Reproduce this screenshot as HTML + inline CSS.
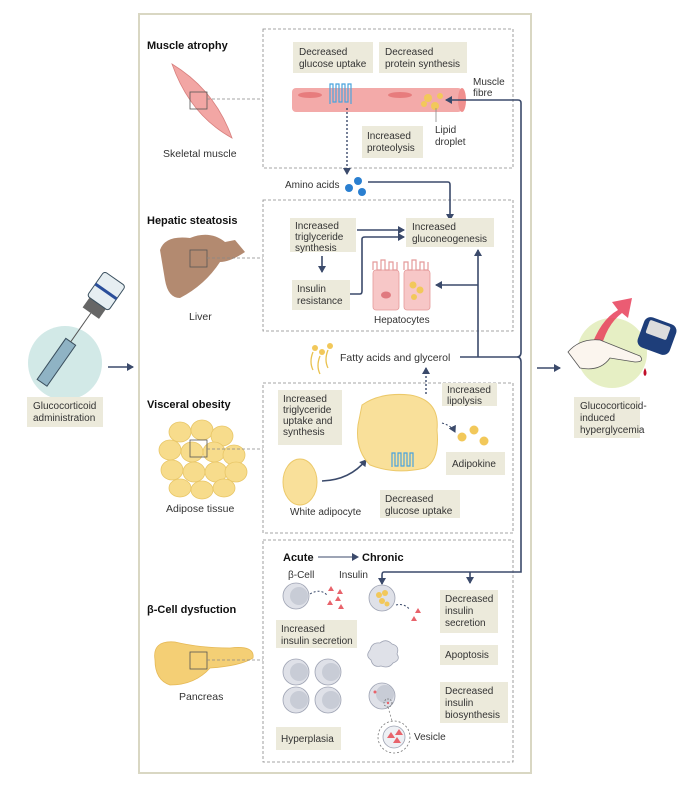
<!DOCTYPE html>
<html><head><meta charset="utf-8"><style>
html,body{margin:0;padding:0;background:#fff;}
svg{display:block;font-family:"Liberation Sans",sans-serif;}
.t{font-size:10px;fill:#333;}
.h{font-size:11px;font-weight:bold;fill:#111;}
.lb{fill:#eceadb;}
.db{fill:none;stroke:#888;stroke-width:0.8;stroke-dasharray:3,2;}
.ar{fill:none;stroke:#3b4a6b;stroke-width:1.6;}
</style></head><body>
<svg width="695" height="790" viewBox="0 0 695 790" xmlns="http://www.w3.org/2000/svg">
<defs>
<marker id="a" markerWidth="8" markerHeight="8" refX="6" refY="4" orient="auto" markerUnits="userSpaceOnUse"><path d="M0,0 L7,4 L0,8 z" fill="#3b4a6b"/></marker>
</defs>
<rect x="139" y="14" width="392" height="759" fill="#fff" stroke="#d9d7c3" stroke-width="2"/>
<rect class="db" x="263" y="29" width="250" height="139"/>
<rect class="db" x="263" y="200" width="250" height="131"/>
<rect class="db" x="263" y="383" width="250" height="150"/>
<rect class="db" x="263" y="540" width="250" height="222"/>

<!-- left side -->
<circle cx="65" cy="363" r="37" fill="#d2e9e7"/>
<g transform="rotate(-55 65 350)">
<rect x="25" y="344" width="50" height="12" fill="#8fb3c4" stroke="#3a4f5e" stroke-width="1"/>
<line x1="75" y1="350" x2="110" y2="350" stroke="#555" stroke-width="1"/>
<rect x="110" y="340" width="12" height="20" fill="#666"/>
<rect x="122" y="337" width="30" height="26" rx="3" fill="#e6eef2" stroke="#3a4f5e"/>
<rect x="135" y="337" width="3" height="26" fill="#2a4e9a"/>
</g>
<rect class="lb" x="27" y="397" width="76" height="30"/>
<text class="t" x="33" y="409">Glucocorticoid</text>
<text class="t" x="33" y="421">administration</text>
<line class="ar" x1="108" y1="367" x2="133" y2="367" marker-end="url(#a)"/>

<!-- right side -->
<circle cx="612" cy="353" r="35" fill="#e6efc4"/>
<path d="M590,350 Q600,320 618,310 L612,302 L632,298 L628,318 L622,313 Q606,325 600,352 z" fill="#e8405a" opacity="0.85"/>
<path d="M568,352 Q580,338 600,340 L640,356 Q645,362 635,362 L610,358 Q600,372 580,368 z" fill="#fbf5ee" stroke="#555" stroke-width="0.8"/>
<rect x="640" y="320" width="34" height="32" rx="7" fill="#1e3e7a" transform="rotate(20 657 336)"/>
<rect x="645" y="323" width="22" height="14" rx="2" fill="#ddd" transform="rotate(20 657 336)"/>
<path d="M645,368 q-3,6 0,8 q3,-2 0,-8z" fill="#c0102a"/>
<rect class="lb" x="574" y="397" width="66" height="41"/>
<text class="t" x="580" y="409">Glucocorticoid-</text>
<text class="t" x="580" y="421">induced</text>
<text class="t" x="580" y="433">hyperglycemia</text>
<line class="ar" x1="537" y1="368" x2="560" y2="368" marker-end="url(#a)"/>

<!-- Muscle -->
<text class="h" x="147" y="49">Muscle atrophy</text>
<path d="M172,64 Q215,90 232,138 Q190,115 172,64z" fill="#f2a6a4" stroke="#d8807e" stroke-width="0.8"/>
<rect x="190" y="92" width="17" height="17" fill="none" stroke="#555" stroke-width="0.8"/>
<line x1="207" y1="99" x2="263" y2="99" stroke="#888" stroke-width="0.8" stroke-dasharray="3,2"/>
<text class="t" x="163" y="157" style="font-size:10.5px">Skeletal muscle</text>
<rect x="292" y="88" width="170" height="24" rx="4" fill="#f3aaa9"/>
<ellipse cx="462" cy="100" rx="4" ry="12" fill="#f08f8e"/>
<ellipse cx="310" cy="95" rx="12" ry="3" fill="#e77c7d"/>
<ellipse cx="400" cy="95" rx="12" ry="3" fill="#e77c7d"/>
<circle cx="428" cy="98" r="4" fill="#f2c85a"/><circle cx="440" cy="96" r="3" fill="#f2c85a"/><circle cx="435" cy="106" r="4" fill="#f2c85a"/><circle cx="424" cy="104" r="3" fill="#f2c85a"/>
<path d="M330,104 v-20 h3 v18 h3 v-18 h3 v18 h3 v-18 h3 v18 h3 v-18 h3 v20" fill="none" stroke="#4aa3dd" stroke-width="1.2"/>
<rect class="lb" x="293" y="42" width="80" height="31"/>
<text class="t" x="299" y="55">Decreased</text><text class="t" x="299" y="67">glucose uptake</text>
<rect class="lb" x="379" y="42" width="88" height="31"/>
<text class="t" x="385" y="55">Decreased</text><text class="t" x="385" y="67">protein synthesis</text>
<text class="t" x="473" y="85">Muscle</text><text class="t" x="473" y="96">fibre</text>
<line x1="436" y1="108" x2="436" y2="122" stroke="#888" stroke-width="0.8"/>
<text class="t" x="435" y="133">Lipid</text><text class="t" x="435" y="145">droplet</text>
<rect class="lb" x="362" y="126" width="61" height="32"/>
<text class="t" x="367" y="139">Increased</text><text class="t" x="367" y="151">proteolysis</text>
<line x1="347" y1="108" x2="347" y2="174" stroke="#3b4a6b" stroke-width="1.4" stroke-dasharray="2,2" marker-end="url(#a)"/>
<text class="t" x="285" y="188">Amino acids</text>
<circle cx="349" cy="188" r="4" fill="#2a7fd0"/><circle cx="358" cy="181" r="4" fill="#2a7fd0"/><circle cx="362" cy="192" r="4" fill="#2a7fd0"/>
<path class="ar" d="M368,182 H448 Q450,182 450,185 V220" marker-end="url(#a)"/>

<!-- Liver -->
<text class="h" x="147" y="224">Hepatic steatosis</text>
<path d="M160,250 Q165,235 190,238 Q210,230 225,242 L235,240 L245,252 Q230,262 220,262 Q205,285 180,298 Q168,298 165,280 z" fill="#b38a70"/>
<rect x="190" y="250" width="17" height="17" fill="none" stroke="#555" stroke-width="0.8"/>
<line x1="207" y1="258" x2="263" y2="258" stroke="#888" stroke-width="0.8" stroke-dasharray="3,2"/>
<text class="t" x="189" y="320" style="font-size:10.5px">Liver</text>
<rect class="lb" x="290" y="218" width="66" height="34"/>
<text class="t" x="295" y="229">Increased</text><text class="t" x="295" y="240">triglyceride</text><text class="t" x="295" y="251">synthesis</text>
<rect class="lb" x="406" y="218" width="88" height="29"/>
<text class="t" x="412" y="230">Increased</text><text class="t" x="412" y="242">gluconeogenesis</text>
<line class="ar" x1="357" y1="230" x2="404" y2="230" marker-end="url(#a)"/>
<path class="ar" d="M350,294 H360 Q362,294 362,291 V239 Q362,237 365,237 H404" marker-end="url(#a)"/>
<line class="ar" x1="322" y1="256" x2="322" y2="272" marker-end="url(#a)"/>
<rect class="lb" x="292" y="280" width="58" height="30"/>
<text class="t" x="297" y="292">Insulin</text><text class="t" x="297" y="304">resistance</text>
<rect x="373" y="270" width="26" height="40" rx="3" fill="#f7c7c7" stroke="#e49a9a" stroke-width="0.8"/>
<rect x="404" y="270" width="26" height="40" rx="3" fill="#f7c7c7" stroke="#e49a9a" stroke-width="0.8"/>
<path d="M373,270 v-8 h4 v8 h4 v-10 h4 v10 h4 v-8 h4 v8 h4 v-8 M404,270 v-8 h4 v8 h4 v-10 h4 v10 h4 v-8 h4 v8 h4 v-8" fill="none" stroke="#e49a9a" stroke-width="1.2"/>
<ellipse cx="386" cy="295" rx="5" ry="3.5" fill="#e07a80"/>
<circle cx="413" cy="285" r="3.5" fill="#f2c85a"/><circle cx="420" cy="290" r="3.5" fill="#f2c85a"/><circle cx="414" cy="297" r="3" fill="#f2c85a"/>
<text class="t" x="374" y="323">Hepatocytes</text>
<path class="ar" d="M478,285 H436" marker-end="url(#a)"/>
<path class="ar" d="M478,357 V250" marker-end="url(#a)"/>

<path class="ar" d="M521,362 V572 H384 Q382,572 382,575 V584" marker-end="url(#a)"/>
<path class="ar" d="M521,352 V103 Q521,100 518,100 H446" marker-end="url(#a)"/>
<line class="ar" x1="470" y1="572" x2="470" y2="583" marker-end="url(#a)"/>
<path class="ar" d="M460,357 H517 Q521,357 521,352 M517,357 Q521,357 521,362"/>

<path d="M313,352 q-4,10 0,18 M320,356 q-4,10 0,18 M328,350 q-4,10 0,18" fill="none" stroke="#e9c24f" stroke-width="1.3"/>
<circle cx="315" cy="348" r="3" fill="#f2c85a"/><circle cx="322" cy="352" r="3" fill="#f2c85a"/><circle cx="330" cy="346" r="3" fill="#f2c85a"/>
<text class="t" x="340" y="361" style="font-size:10.5px">Fatty acids and glycerol</text>

<!-- visceral -->
<text class="h" x="147" y="408">Visceral obesity</text>
<g fill="#f7dc8c" stroke="#e8c667" stroke-width="0.8">
<ellipse cx="180" cy="432" rx="11" ry="10"/><ellipse cx="202" cy="430" rx="11" ry="10"/><ellipse cx="222" cy="436" rx="11" ry="10"/>
<ellipse cx="170" cy="450" rx="11" ry="10"/><ellipse cx="192" cy="452" rx="11" ry="10"/><ellipse cx="214" cy="452" rx="11" ry="10"/><ellipse cx="234" cy="455" rx="11" ry="10"/>
<ellipse cx="172" cy="470" rx="11" ry="10"/><ellipse cx="194" cy="472" rx="11" ry="10"/><ellipse cx="216" cy="472" rx="11" ry="10"/><ellipse cx="236" cy="472" rx="11" ry="10"/>
<ellipse cx="180" cy="488" rx="11" ry="9"/><ellipse cx="202" cy="490" rx="11" ry="9"/><ellipse cx="224" cy="488" rx="11" ry="9"/>
</g>
<rect x="190" y="440" width="17" height="17" fill="none" stroke="#555" stroke-width="0.8"/>
<line x1="207" y1="449" x2="263" y2="449" stroke="#888" stroke-width="0.8" stroke-dasharray="3,2"/>
<text class="t" x="166" y="512" style="font-size:10.5px">Adipose tissue</text>
<rect class="lb" x="278" y="390" width="64" height="55"/>
<text class="t" x="283" y="402">Increased</text><text class="t" x="283" y="413">triglyceride</text><text class="t" x="283" y="424">uptake and</text><text class="t" x="283" y="435">synthesis</text>
<ellipse cx="300" cy="482" rx="17" ry="23" fill="#f9e09a" stroke="#ecc96a"/>
<text class="t" x="290" y="515">White adipocyte</text>
<path class="ar" d="M322,481 Q350,480 366,460" stroke-width="1.2" marker-end="url(#a)"/>
<path d="M362,405 Q380,392 410,395 Q440,400 437,430 Q440,460 425,468 Q395,475 370,465 Q355,450 358,425 z" fill="#f9e09a" stroke="#ecc96a"/>
<path d="M392,467 v-14 h3 v13 h3 v-13 h3 v13 h3 v-13 h3 v13 h3 v-13 h3 v14" fill="none" stroke="#4aa3dd" stroke-width="1.2"/>
<rect class="lb" x="380" y="490" width="80" height="28"/>
<text class="t" x="385" y="502">Decreased</text><text class="t" x="385" y="514">glucose uptake</text>
<line x1="426" y1="394" x2="426" y2="368" stroke="#3b4a6b" stroke-width="1.4" stroke-dasharray="2,2" marker-end="url(#a)"/>
<rect class="lb" x="442" y="383" width="55" height="23"/>
<text class="t" x="447" y="393">Increased</text><text class="t" x="447" y="404">lipolysis</text>
<path d="M442,423 Q452,426 455,432" fill="none" stroke="#3b4a6b" stroke-width="1" stroke-dasharray="2,2" marker-end="url(#a)"/>
<circle cx="462" cy="437" r="4.5" fill="#f2c85a"/><circle cx="474" cy="430" r="4.5" fill="#f2c85a"/><circle cx="484" cy="441" r="4.5" fill="#f2c85a"/>
<rect class="lb" x="446" y="452" width="59" height="23"/>
<text class="t" x="452" y="467">Adipokine</text>

<!-- beta -->
<text class="h" x="283" y="561">Acute</text>
<line x1="318" y1="557" x2="358" y2="557" stroke="#3b4a6b" stroke-width="1" marker-end="url(#a)"/>
<text class="h" x="362" y="561">Chronic</text>
<text class="h" x="147" y="613">β-Cell dysfuction</text>
<path d="M155,660 Q152,640 175,642 Q200,648 230,648 Q255,645 253,658 Q240,666 210,668 Q195,685 170,685 Q155,680 155,660z" fill="#f4cf75" stroke="#e6b956" stroke-width="0.8"/>
<rect x="190" y="652" width="17" height="17" fill="none" stroke="#555" stroke-width="0.8"/>
<line x1="207" y1="660" x2="263" y2="660" stroke="#888" stroke-width="0.8" stroke-dasharray="3,2"/>
<text class="t" x="179" y="700" style="font-size:10.5px">Pancreas</text>
<text class="t" x="288" y="578">β-Cell</text><text class="t" x="339" y="578">Insulin</text>
<g fill="#dfe1e8" stroke="#9ea3b3" stroke-width="0.8">
<circle cx="296" cy="596" r="13"/>
<circle cx="296" cy="672" r="13"/><circle cx="328" cy="672" r="13"/><circle cx="296" cy="700" r="13"/><circle cx="328" cy="700" r="13"/>
<circle cx="382" cy="598" r="13"/><circle cx="382" cy="696" r="13"/>
<path d="M370,650 q2,-8 10,-7 q6,-5 12,1 q8,2 5,10 q4,6 -4,9 q-4,6 -12,3 q-8,2 -10,-6 q-6,-4 -1,-10z"/>
</g>
<g fill="#c8ccd6"><circle cx="299" cy="596" r="9"/><circle cx="299" cy="672" r="9"/><circle cx="331" cy="672" r="9"/><circle cx="299" cy="700" r="9"/><circle cx="331" cy="700" r="9"/><circle cx="385" cy="694" r="9"/></g>
<circle cx="379" cy="595" r="3" fill="#f2c85a"/><circle cx="385" cy="593" r="3" fill="#f2c85a"/><circle cx="382" cy="601" r="3" fill="#f2c85a"/><circle cx="387" cy="604" r="2.5" fill="#f2c85a"/>
<circle cx="394" cy="737" r="16" fill="none" stroke="#777" stroke-width="0.8" stroke-dasharray="2,2"/>
<circle cx="394" cy="737" r="11" fill="#eef0f4" stroke="#9ea3b3" stroke-width="0.8"/>
<circle cx="388" cy="703" r="4" fill="none" stroke="#555" stroke-width="0.7" stroke-dasharray="1.5,1.5"/>
<line x1="388" y1="707" x2="392" y2="721" stroke="#777" stroke-width="0.7" stroke-dasharray="2,2"/>
<g fill="#e8636b">
<path d="M331,586 l3,5 h-6z"/><path d="M340,589 l3,5 h-6z"/><path d="M338,596 l3,5 h-6z"/><path d="M330,600 l3,5 h-6z"/><path d="M341,604 l3,5 h-6z"/>
<path d="M418,608 l3,5 h-6z"/><path d="M414,616 l3,5 h-6z"/>
<path d="M391,732 l4,6 h-8z"/><path d="M399,729 l4,6 h-8z"/><path d="M397,737 l4,6 h-8z"/>
<circle cx="375" cy="692" r="1.5"/><circle cx="388" cy="703" r="1.2"/>
</g>
<path d="M310,594 Q320,588 327,595" fill="none" stroke="#3b4a6b" stroke-width="1" stroke-dasharray="2,2"/>
<path d="M396,605 Q405,603 410,610" fill="none" stroke="#3b4a6b" stroke-width="1" stroke-dasharray="2,2"/>
<rect class="lb" x="276" y="620" width="81" height="28"/>
<text class="t" x="281" y="632">Increased</text><text class="t" x="281" y="644">insulin secretion</text>
<rect class="lb" x="276" y="727" width="65" height="23"/>
<text class="t" x="281" y="742">Hyperplasia</text>
<rect class="lb" x="440" y="590" width="58" height="43"/>
<text class="t" x="445" y="602">Decreased</text><text class="t" x="445" y="614">insulin</text><text class="t" x="445" y="626">secretion</text>
<rect class="lb" x="440" y="645" width="58" height="20"/>
<text class="t" x="445" y="658">Apoptosis</text>
<rect class="lb" x="440" y="682" width="68" height="41"/>
<text class="t" x="445" y="694">Decreased</text><text class="t" x="445" y="706">insulin</text><text class="t" x="445" y="718">biosynthesis</text>
<text class="t" x="414" y="740">Vesicle</text>
</svg>
</body></html>
